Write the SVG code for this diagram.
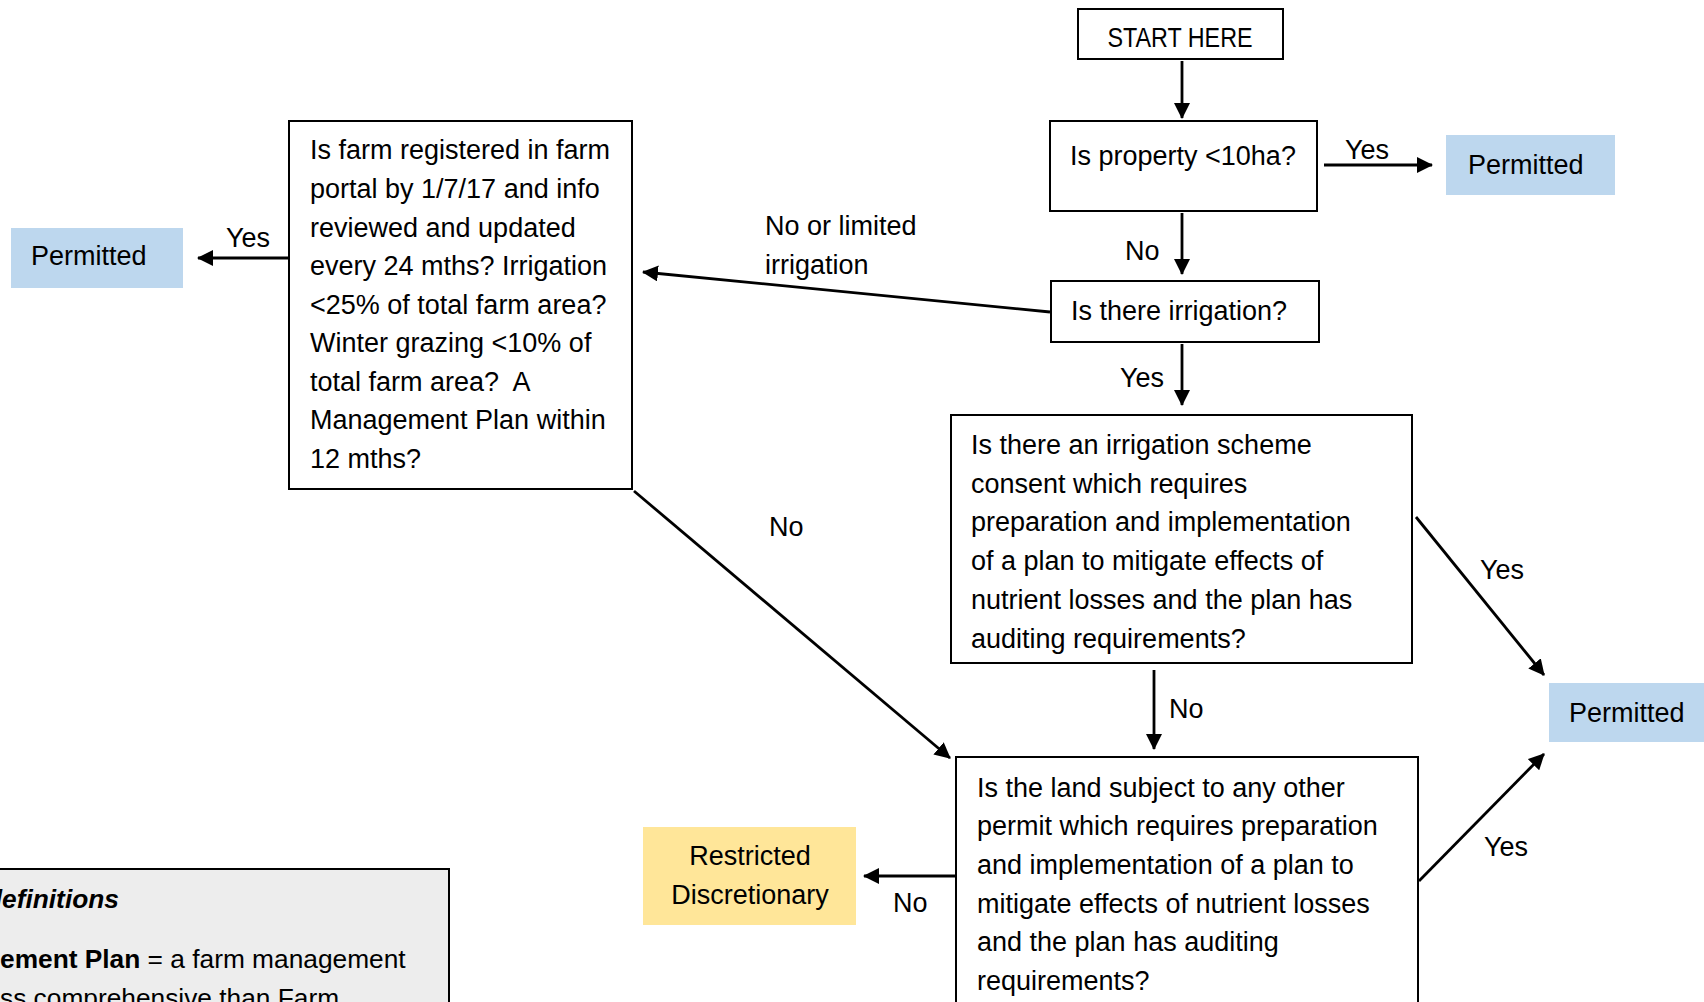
<svg xmlns="http://www.w3.org/2000/svg" width="1704" height="1002" viewBox="0 0 1704 1002">
<defs>
<marker id="ah" viewBox="0 0 16 16" refX="15" refY="8" markerWidth="16" markerHeight="16" markerUnits="userSpaceOnUse" orient="auto">
<path d="M0,0 L16,8 L0,16 z" fill="#000"/>
</marker>
<style>
text{font-family:"Liberation Sans",Arial,sans-serif;font-size:27px;fill:#000}
.box{fill:#fff;stroke:#000;stroke-width:2}
.perm{fill:#BDD7EE}
.rd{fill:#FFE699}
.def{fill:#EDEDED;stroke:#000;stroke-width:2}
.c line{stroke:#000;stroke-width:2.8;marker-end:url(#ah)}
.mid{text-anchor:middle}
.sm{font-size:26.3px}
</style>
</defs>
<rect width="1704" height="1002" fill="#fff"/>

<g id="start">
<rect class="box" x="1078" y="9" width="205" height="50"/>
<text x="1180" y="47" class="mid" textLength="145" lengthAdjust="spacingAndGlyphs">START HERE</text>
</g>
<g id="q-property">
<rect class="box" x="1050" y="121" width="267" height="90"/>
<text x="1070" y="165">Is property &lt;10ha?</text>
</g>
<g id="permitted-top">
<rect class="perm" x="1446" y="135" width="169" height="60"/>
<text x="1468" y="174">Permitted</text>
</g>
<g id="q-irrigation">
<rect class="box" x="1051" y="281" width="268" height="61"/>
<text x="1071" y="320">Is there irrigation?</text>
</g>
<g id="q-farm">
<rect class="box" x="289" y="121" width="343" height="368"/>
<text x="310" y="159">Is farm registered in farm</text>
<text x="310" y="198">portal by 1/7/17 and info</text>
<text x="310" y="237">reviewed and updated</text>
<text x="310" y="275">every 24 mths? Irrigation</text>
<text x="310" y="314">&lt;25% of total farm area?</text>
<text x="310" y="352">Winter grazing &lt;10% of</text>
<text x="310" y="391">total farm area?&#160; A</text>
<text x="310" y="429">Management Plan within</text>
<text x="310" y="468">12 mths?</text>
</g>
<g id="permitted-left">
<rect class="perm" x="11" y="228" width="172" height="60"/>
<text x="31" y="265">Permitted</text>
</g>
<g id="q-scheme">
<rect class="box" x="951" y="415" width="461" height="248"/>
<text x="971" y="454">Is there an irrigation scheme</text>
<text x="971" y="493">consent which requires</text>
<text x="971" y="531">preparation and implementation</text>
<text x="971" y="570">of a plan to mitigate effects of</text>
<text x="971" y="609">nutrient losses and the plan has</text>
<text x="971" y="648">auditing requirements?</text>
</g>
<g id="permitted-right">
<rect class="perm" x="1549" y="683" width="160" height="59"/>
<text x="1569" y="722">Permitted</text>
</g>
<g id="q-other-permit">
<rect class="box" x="956" y="757" width="462" height="260"/>
<text x="977" y="797">Is the land subject to any other</text>
<text x="977" y="835">permit which requires preparation</text>
<text x="977" y="874">and implementation of a plan to</text>
<text x="977" y="913">mitigate effects of nutrient losses</text>
<text x="977" y="951">and the plan has auditing</text>
<text x="977" y="990">requirements?</text>
</g>
<g id="restricted">
<rect class="rd" x="643" y="827" width="213" height="98"/>
<text x="750" y="865" class="mid">Restricted</text>
<text x="750" y="904" class="mid">Discretionary</text>
</g>
<g id="definitions">
<rect class="def" x="-10" y="869" width="459" height="150"/>
<text x="-14" y="908" class="sm" font-weight="bold" font-style="italic">definitions</text>
<text x="0" y="968" class="sm"><tspan font-weight="bold">ement Plan</tspan> = a farm management</text>
<text x="0" y="1007" class="sm">ss comprehensive than Farm</text>
</g>

<g id="connectors" class="c">
<line x1="1182" y1="61" x2="1182" y2="118"/>
<line x1="1324" y1="165" x2="1432" y2="165"/>
<line x1="1182" y1="213" x2="1182" y2="274"/>
<line x1="1182" y1="344" x2="1182" y2="405"/>
<line x1="1050" y1="312" x2="643" y2="272"/>
<line x1="288" y1="258" x2="198" y2="258"/>
<line x1="634" y1="491" x2="950" y2="758"/>
<line x1="1154" y1="670" x2="1154" y2="749"/>
<line x1="1416" y1="517" x2="1544" y2="675"/>
<line x1="1419" y1="881" x2="1544" y2="754"/>
<line x1="955" y1="876" x2="864" y2="876"/>
</g>
<g id="labels">
<text x="1345" y="159">Yes</text>
<text x="1125" y="260">No</text>
<text x="1120" y="387">Yes</text>
<text x="765" y="235">No or limited</text>
<text x="765" y="274">irrigation</text>
<text x="226" y="247">Yes</text>
<text x="769" y="536">No</text>
<text x="1169" y="718">No</text>
<text x="1480" y="579">Yes</text>
<text x="1484" y="856">Yes</text>
<text x="893" y="912">No</text>
</g>
</svg>
